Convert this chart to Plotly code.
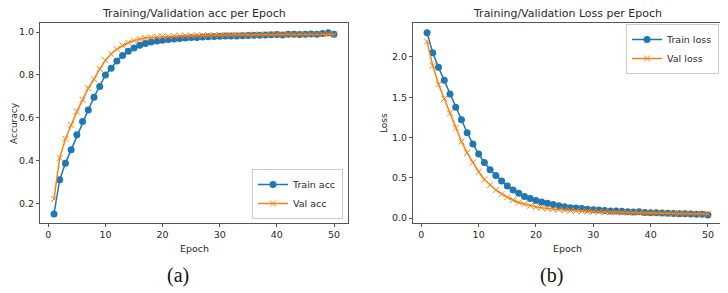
import plotly.graph_objects as go

epochs = list(range(1, 51))
train_acc = [0.152, 0.312, 0.389, 0.451, 0.521, 0.583, 0.637, 0.696, 0.746, 0.800,
             0.831, 0.865, 0.890, 0.910, 0.926, 0.938, 0.947, 0.953, 0.958, 0.962,
             0.965, 0.968, 0.970, 0.972, 0.974, 0.975, 0.977, 0.978, 0.979, 0.980,
             0.981, 0.982, 0.982, 0.983, 0.984, 0.985, 0.985, 0.986, 0.987, 0.988,
             0.986, 0.989, 0.990, 0.988, 0.990, 0.991, 0.990, 0.993, 0.996, 0.990]
val_acc = [0.222, 0.413, 0.502, 0.567, 0.629, 0.684, 0.738, 0.780, 0.828, 0.868,
           0.898, 0.920, 0.937, 0.950, 0.960, 0.967, 0.972, 0.975, 0.977, 0.979,
           0.980, 0.981, 0.982, 0.983, 0.983, 0.984, 0.984, 0.985, 0.985, 0.986,
           0.986, 0.986, 0.987, 0.987, 0.987, 0.988, 0.988, 0.988, 0.988, 0.989,
           0.989, 0.989, 0.989, 0.990, 0.990, 0.990, 0.990, 0.990, 0.991, 0.988]
train_loss = [2.30, 2.05, 1.87, 1.71, 1.54, 1.375, 1.22, 1.06, 0.92, 0.795,
              0.69, 0.60, 0.53, 0.46, 0.40, 0.35, 0.31, 0.27, 0.245, 0.22,
              0.20, 0.185, 0.17, 0.155, 0.14, 0.13, 0.125, 0.12, 0.11, 0.105,
              0.10, 0.095, 0.09, 0.088, 0.085, 0.08, 0.076, 0.078, 0.07, 0.068,
              0.066, 0.064, 0.06, 0.058, 0.056, 0.055, 0.053, 0.05, 0.048, 0.04]
val_loss = [2.19, 1.89, 1.66, 1.48, 1.30, 1.12, 0.95, 0.81, 0.69, 0.575,
            0.48, 0.41, 0.35, 0.30, 0.26, 0.225, 0.195, 0.175, 0.155, 0.14,
            0.13, 0.12, 0.11, 0.105, 0.10, 0.095, 0.09, 0.087, 0.084, 0.08,
            0.078, 0.076, 0.074, 0.072, 0.07, 0.068, 0.066, 0.065, 0.064, 0.062,
            0.061, 0.06, 0.059, 0.058, 0.057, 0.056, 0.055, 0.055, 0.054, 0.053]

BLUE = "#1f77b4"
ORANGE = "#ff7f0e"
OFF = 8                      # page body margin
W, H = 728 - OFF, 293 - OFF  # figure size
FONT = "DejaVu Sans"
TXT = "#2a2a2a"

def px(x):
    return (x - OFF) / W

def py(y):
    return 1 - (y - OFF) / H

fig = go.Figure()

def add_pair(x_ax, y_ax, leg, ytr, yva, ntr, nva):
    fig.add_trace(go.Scatter(x=epochs, y=ytr, name=ntr, mode="lines+markers",
                             xaxis=x_ax, yaxis=y_ax, legend=leg,
                             line=dict(color=BLUE, width=1.5),
                             marker=dict(symbol="circle", size=7, color=BLUE)))
    fig.add_trace(go.Scatter(x=epochs, y=yva, name=nva, mode="lines+markers",
                             xaxis=x_ax, yaxis=y_ax, legend=leg,
                             line=dict(color=ORANGE, width=1.5),
                             marker=dict(symbol="x-thin-open", size=6,
                                         line=dict(color=ORANGE, width=1))))

add_pair("x", "y", "legend", train_acc, val_acc, "Train acc", "Val acc")
add_pair("x2", "y2", "legend2", train_loss, val_loss, "Train loss", "Val loss")

ydom = [py(223), py(23)]
axis_common = dict(showline=True, mirror=True, linecolor="#555", linewidth=1,
                   ticks="outside", ticklen=3, tickcolor="#555", showgrid=False,
                   zeroline=False, automargin=False,
                   tickfont=dict(family=FONT, size=9.5, color=TXT))

leg_common = dict(bgcolor="white", bordercolor="#ccc", borderwidth=1,
                  font=dict(family=FONT, size=9.5, color=TXT), tracegroupgap=0,
                  itemwidth=30)

fig.update_layout(
    width=W, height=H, margin=dict(l=0, r=0, t=0, b=0, autoexpand=False),
    paper_bgcolor="white", plot_bgcolor="white", showlegend=True,
    xaxis=dict(domain=[px(40), px(348)], range=[-1.45, 52.45], tickvals=[0, 10, 20, 30, 40, 50],
               anchor="y", **axis_common),
    yaxis=dict(domain=ydom, range=[0.110, 1.042], tickvals=[0.2, 0.4, 0.6, 0.8, 1.0],
               tickformat=".1f", anchor="x", **axis_common),
    xaxis2=dict(domain=[px(413), px(722)], range=[-1.45, 52.45], tickvals=[0, 10, 20, 30, 40, 50],
                anchor="y2", **axis_common),
    yaxis2=dict(domain=ydom, range=[-0.06, 2.42], tickvals=[0.0, 0.5, 1.0, 1.5, 2.0],
                tickformat=".1f", anchor="x2", **axis_common),
    legend=dict(x=px(343), y=py(219), xanchor="right", yanchor="bottom", **leg_common),
    legend2=dict(x=px(719), y=py(24), xanchor="right", yanchor="top", **leg_common),
)

ann = [
    dict(text="Training/Validation acc per Epoch", x=194, y=14, size=11, fam=FONT),
    dict(text="Training/Validation Loss per Epoch", x=567, y=14, size=11, fam=FONT),
    dict(text="Epoch", x=194, y=248, size=9.5, fam=FONT),
    dict(text="Epoch", x=567, y=248, size=9.5, fam=FONT),
    dict(text="(a)", x=178, y=275, size=20, fam="Liberation Serif"),
    dict(text="(b)", x=551, y=275, size=20, fam="Liberation Serif"),
]
for a in ann:
    fig.add_annotation(text=a["text"], x=px(a["x"]), y=py(a["y"]), xref="paper", yref="paper",
                       xanchor="center", yanchor="middle", showarrow=False,
                       font=dict(family=a["fam"], size=a["size"],
                                 color="#111" if "(" in a["text"] else TXT))
for txt, xp, yp in [("Accuracy", 14, 123), ("Loss", 384, 123)]:
    fig.add_annotation(text=txt, x=px(xp), y=py(yp), xref="paper", yref="paper",
                       xanchor="center", yanchor="middle", showarrow=False, textangle=-90,
                       font=dict(family=FONT, size=9, color=TXT))

fig.write_html("out.html")
